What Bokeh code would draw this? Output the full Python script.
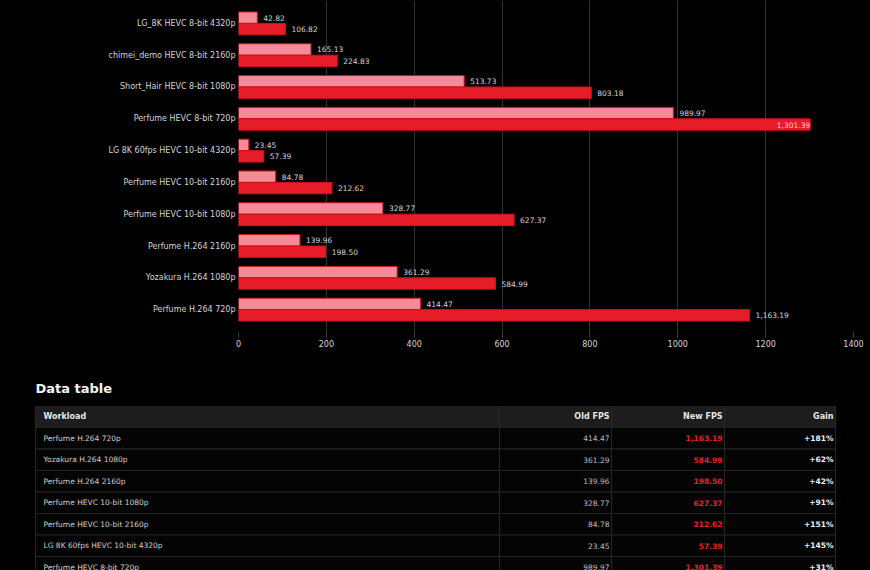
from bokeh.plotting import figure
from bokeh.models import (ColumnDataSource, Range1d, FactorRange, FixedTicker,
                          GlobalInlineStyleSheet)
from bokeh.layouts import column
from bokeh.transform import dodge
from bokeh.core.properties import value
from bokeh.embed import file_html
from bokeh.resources import INLINE

# Benchmark results (frames per second), old build vs new build
workloads = [
    "Perfume H.264 720p",
    "Yozakura H.264 1080p",
    "Perfume H.264 2160p",
    "Perfume HEVC 10-bit 1080p",
    "Perfume HEVC 10-bit 2160p",
    "LG 8K 60fps HEVC 10-bit 4320p",
    "Perfume HEVC 8-bit 720p",
    "Short_Hair HEVC 8-bit 1080p",
    "chimei_demo HEVC 8-bit 2160p",
    "LG_8K HEVC 8-bit 4320p",
]
old_fps = [414.47, 361.29, 139.96, 328.77, 84.78, 23.45, 989.97, 513.73, 165.13, 42.82]
new_fps = [1163.19, 584.99, 198.50, 627.37, 212.62, 57.39, 1301.39, 803.18, 224.83, 106.82]
x_ticks = [0, 200, 400, 600, 800, 1000, 1200, 1400]

FONT = value("DejaVu Sans")
OLD_COLOR = "#f48b96"
NEW_COLOR = "#e61c28"
EDGE_COLOR = "#c8141e"
TEXT_COLOR = "#d4d4d4"

old_lbl = [f"{v:,.2f}" for v in old_fps]
new_lbl = [f"{v:,.2f}" for v in new_fps]
gain_lbl = [f"+{round((n / o - 1) * 100)}%" for o, n in zip(old_fps, new_fps)]

# labels that would run past the axis end are tucked inside their bar
x_max = x_ticks[-1]
fits = [v < x_max * 0.89 for v in new_fps]
new_align = ["left" if f else "right" for f in fits]
new_xoff = [6 if f else 0 for f in fits]
new_txt_color = [TEXT_COLOR if f else "#ffd0d6" for f in fits]

src = ColumnDataSource(dict(
    workload=workloads, old=old_fps, new=new_fps,
    old_lbl=old_lbl, new_lbl=new_lbl,
    new_align=new_align, new_xoff=new_xoff, new_txt_color=new_txt_color,
))

# ---- bar chart -------------------------------------------------------------
p = figure(
    width=870, height=365,
    y_range=FactorRange(factors=workloads, range_padding=0.22,
                        range_padding_units="absolute"),
    x_range=Range1d(0, x_max),
    output_backend="svg", toolbar_location=None,
    min_border_left=238, min_border_right=17,
    min_border_top=0, min_border_bottom=33,
    background_fill_color="black", border_fill_color="black",
    outline_line_color=None,
)

p.hbar(y=dodge("workload", 0.18, range=p.y_range), left=0, right="old",
       height=0.36, fill_color=OLD_COLOR, line_color=EDGE_COLOR,
       line_width=1, source=src)
p.hbar(y=dodge("workload", -0.18, range=p.y_range), left=0, right="new",
       height=0.36, fill_color=NEW_COLOR, line_color=EDGE_COLOR,
       line_width=1, source=src)

p.text(x="old", y=dodge("workload", 0.18, range=p.y_range), text="old_lbl",
       x_offset=6, text_align="left", text_baseline="middle",
       text_font=FONT, text_font_size="7.5px", text_color=TEXT_COLOR,
       source=src)
p.text(x="new", y=dodge("workload", -0.18, range=p.y_range), text="new_lbl",
       x_offset="new_xoff", text_align="new_align", text_baseline="middle",
       text_font=FONT, text_font_size="7.5px", text_color="new_txt_color",
       source=src)

p.xaxis.ticker = FixedTicker(ticks=x_ticks)
p.xgrid.ticker = FixedTicker(ticks=x_ticks)
p.xgrid.grid_line_color = "#333333"
p.ygrid.visible = False

p.xaxis.axis_line_color = None
p.xaxis.major_tick_line_color = "#444444"
p.xaxis.major_tick_out = 5
p.xaxis.major_tick_in = 0
p.xaxis.minor_tick_line_color = None
p.xaxis.major_label_standoff = 2

p.yaxis.axis_line_color = None
p.yaxis.major_tick_line_color = None
p.yaxis.minor_tick_line_color = None
p.yaxis.major_tick_out = 0
p.yaxis.major_tick_in = 0
p.yaxis.major_label_standoff = 3

p.axis.major_label_text_font = "DejaVu Sans"
p.axis.major_label_text_font_size = "8px"
p.axis.major_label_text_color = TEXT_COLOR

# ---- data table ------------------------------------------------------------
n = len(workloads)
tsrc = ColumnDataSource(dict(
    yc=[i + 0.5 for i in range(n)],
    top=[i for i in range(n)],
    bottom=[i + 1 for i in range(n)],
    workload=workloads, old=old_lbl, new=new_lbl, gain=gain_lbl,
))

t = figure(
    width=870, height=205,
    x_range=Range1d(0, 870), y_range=Range1d(6.65, -2.884),
    output_backend="svg", toolbar_location=None, min_border=0,
    min_border_left=0, min_border_right=0,
    min_border_top=0, min_border_bottom=0,
    background_fill_color="black", border_fill_color="black",
    outline_line_color=None, x_axis_location=None, y_axis_location=None,
)
t.grid.visible = False

TL, TR = 35, 835
col_edges = [499, 611, 724]

t.text(x=[TL], y=[-1.81], text=["Data table"], text_font=FONT,
       text_font_style="bold", text_font_size="13px", text_color="#f2f2f2",
       text_baseline="middle", text_align="left")

# header band
t.quad(left=[TL], right=[TR], top=[-1], bottom=[0],
       fill_color="#1d1d1d", line_color=None)
# row bands and separators
t.quad(left=TL, right=TR, top="top", bottom="bottom", fill_color="#040404",
       line_color="#242424", line_width=1, source=tsrc)
t.segment(x0=col_edges, x1=col_edges, y0=[-1] * 3, y1=[n] * 3,
          line_color="#262626", line_width=1)
t.segment(x0=[TL, TR], x1=[TL, TR], y0=[-1, -1], y1=[n, n],
          line_color="#262626", line_width=1)

hdr_kw = dict(text_font=FONT, text_font_style="bold", text_font_size="8px",
              text_color="#e6e6e6", text_baseline="middle")
t.text(x=[43], y=[-0.5], text=["Workload"], text_align="left", **hdr_kw)
t.text(x=[609, 722, 833], y=[-0.5] * 3, text=["Old FPS", "New FPS", "Gain"],
       text_align="right", **hdr_kw)

row_kw = dict(text_font=FONT, text_font_size="7.5px", text_baseline="middle",
              source=tsrc)
t.text(x=43, y="yc", text="workload", text_align="left",
       text_color="#cfcfcf", **row_kw)
t.text(x=609, y="yc", text="old", text_align="right",
       text_color="#bdbdbd", **row_kw)
t.text(x=722, y="yc", text="new", text_align="right", text_color="#e8202c",
       text_font_style="bold", **row_kw)
t.text(x=833, y="yc", text="gain", text_align="right", text_color="#f0f0f0",
       text_font_style="bold", **row_kw)

# each figure sits in its own box so their frames are laid out independently
dark_page = GlobalInlineStyleSheet(css="html, body { background: #000; margin: 0; }")
box_p = column(p, styles={"background-color": "#000"})
box_t = column(t, styles={"background-color": "#000"})
layout = column(box_p, box_t, spacing=0,
                styles={"background-color": "#000"}, stylesheets=[dark_page])
open("out.html", "w").write(file_html(layout, INLINE))
